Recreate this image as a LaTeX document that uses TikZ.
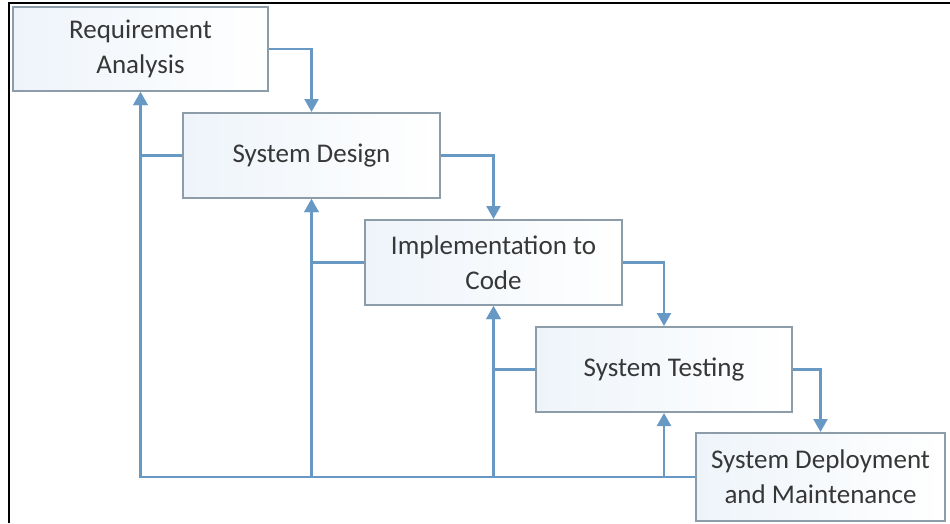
\documentclass[tikz,border=0pt]{standalone}
\usepackage{fontspec}
\setmainfont{Carlito}
\usetikzlibrary{arrows.meta}

\definecolor{flowblue}{RGB}{104,153,196}
\definecolor{boxedge}{RGB}{140,156,168}
\definecolor{boxfill}{RGB}{238,244,250}
\definecolor{inkgray}{RGB}{55,55,55}

\tikzstyle{phase}=[draw=boxedge, line width=2pt, left color=boxfill, right color=white, text=inkgray, inner sep=0pt, align=center, font=\fontsize{27}{35}\selectfont]
\tikzstyle{flow}=[draw=flowblue, line width=2.4pt, -{Triangle[length=13pt,width=14pt]}]
\tikzstyle{feedback}=[flow]

\begin{document}
\begin{tikzpicture}[x=1pt, y=-1pt]
					\useasboundingbox (0,0) rectangle (950,523);
					\draw[black, line width=2pt] (9,523) -- (9,3) -- (950,3);

					\coordinate (P1) at (140.5,49);
					\coordinate (P2) at (311.5,155.5);
					\coordinate (P3) at (493.5,262.5);
					\coordinate (P4) at (664,369.5);
					\coordinate (P5) at (820.5,477);

					\node[phase, minimum width=255pt, minimum height=84pt] (req) at (P1) {Requirement\\Analysis};
					\node[phase, minimum width=257pt, minimum height=85pt] (des) at (P2) {System Design};
					\node[phase, minimum width=257pt, minimum height=85pt] (imp) at (P3) {Implementation to\\Code};
					\node[phase, minimum width=256pt, minimum height=85pt] (tst) at (P4) {System Testing};
					\node[phase, minimum width=249pt, minimum height=88pt] (dep) at (P5) {System Deployment\\and Maintenance};

					\draw[flow] (req.east) -| (des.north);
					\draw[flow] (des.east) -| (imp.north);
					\draw[flow] (imp.east) -| (tst.north);
					\draw[flow] (tst.east) -| (dep.north);

					\draw[feedback] (des.west) -| (req.south);
					\draw[feedback] (imp.west) -| (des.south);
					\draw[feedback] (tst.west) -| (imp.south);
					\draw[feedback] (dep.west) -| (req.south);
					\draw[feedback] (dep.west -| des.south) -- (des.south);
					\draw[feedback] (dep.west -| imp.south) -- (imp.south);
					\draw[feedback] (dep.west -| tst.south) -- (tst.south);
				\end{tikzpicture}
\end{document}
